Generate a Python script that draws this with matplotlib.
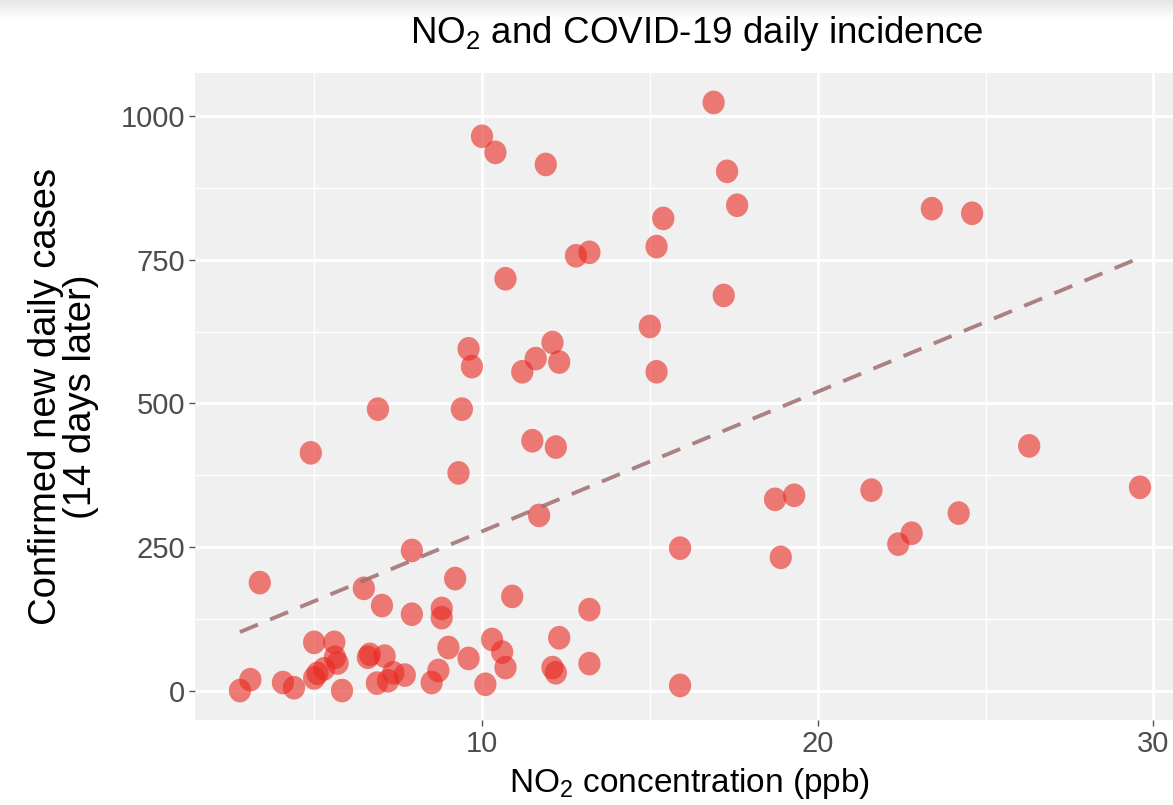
import numpy as np
import matplotlib.pyplot as plt
from matplotlib.path import Path

# =====================================================
# Data
# =====================================================

no2_ppb = [
    2.79, 3.10, 3.38, 4.07, 4.40, 4.90, 5.00, 5.60, 5.62, 5.70,
    5.30, 5.10, 5.00, 5.83, 6.48, 6.60, 6.66, 6.90, 6.87, 7.02,
    7.10, 7.20, 7.36, 7.70, 7.91, 7.91, 8.50, 8.70, 8.80, 8.80,
    9.00, 9.20, 9.30, 9.40, 9.60, 9.60, 9.70, 10.0, 10.1, 10.3,
    10.4, 10.6, 10.7, 10.7, 10.9, 11.2, 11.5, 11.6, 11.7, 11.9,
    12.1, 12.2, 12.3, 12.3, 12.1, 12.2, 12.8, 13.2, 13.2, 13.2,
    15.0, 15.2, 15.2, 15.4, 15.9, 15.9, 16.9, 17.2, 17.3, 17.6,
    18.73, 18.9, 19.3, 21.6, 22.4, 22.8, 23.4, 24.2, 24.6, 26.3,
    29.6,
]

new_cases = [
    0, 19, 188, 14, 5, 414, 84, 84, 58, 48,
    38, 30, 22, 0, 178, 58, 63, 490, 13, 148,
    60, 17, 31, 27, 244, 133, 14, 35, 143, 127,
    75, 195, 379, 490, 595, 56, 564, 965, 11, 89,
    937, 67, 40, 717, 164, 555, 435, 578, 305, 916,
    606, 424, 572, 92, 40, 31, 757, 763, 141, 47,
    634, 773, 555, 822, 248, 9, 1024, 688, 904, 845,
    333, 232, 340, 349, 255, 274, 839, 309, 831, 426,
    354,
]

x_ticks = [10, 20, 30]
y_ticks = [0, 250, 500, 750, 1000]

# =====================================================
# Style
# =====================================================

plt.rcParams.update({
    "font.family": ["Liberation Sans", "DejaVu Sans"],
    "mathtext.fontset": "custom",
    "mathtext.rm": "Liberation Sans",
    "mathtext.it": "Liberation Sans",
    "mathtext.bf": "Liberation Sans",
})

# the screenshot is slightly squeezed sideways, so dots are a bit oval
t = np.linspace(0, 2 * np.pi, 60)
ellipse = Path(np.column_stack([0.94 * np.cos(t), np.sin(t)]), closed=True)

# =====================================================
# Plot
# =====================================================

fig = plt.figure(figsize=(11.73, 8.05), dpi=100)

# light band along the top edge of the screenshot
band = fig.add_axes([0, 0.975, 1, 0.025])
band.imshow(np.linspace(0.9, 1.0, 20).reshape(-1, 1), aspect="auto",
            cmap="gray", vmin=0, vmax=1, extent=[0, 1, 0, 1])
band.axis("off")

ax = fig.add_axes([0.1662, 0.1056, 0.8440, 0.8037])
ax.set_facecolor("#F0F0F0")

x = np.array(no2_ppb)
y = np.array(new_cases)

ax.scatter(x, y, s=290, marker=ellipse, color="#E8281F", alpha=0.6,
           edgecolors="none", zorder=3)

# linear fit
slope, intercept = np.polyfit(x, y, 1)
xf = np.array([x.min(), x.max()])
ax.plot(xf, intercept + slope * xf, color="#A06E6E", alpha=0.85,
        linewidth=2.8, linestyle=(0, (5, 3.4)), zorder=4)

ax.margins(x=0.05, y=0.05)

# =====================================================
# Formatting
# =====================================================

ax.set_xticks(x_ticks)
ax.set_yticks(y_ticks)
ax.set_xticks([5, 15, 25], minor=True)
ax.set_yticks([125, 375, 625, 875], minor=True)
ax.grid(which="major", color="white", linewidth=2.0)
ax.grid(which="minor", color="white", linewidth=1.0)
ax.set_axisbelow(True)

for s in ax.spines.values():
    s.set_visible(False)

ax.tick_params(which="major", length=4, width=1, color="#555555",
               labelcolor="#4D4D4D", labelsize=21, pad=3)
ax.tick_params(which="minor", length=0)

ax.set_xlabel(r"NO$_2$ concentration (ppb)", fontsize=24, labelpad=6)
ax.set_ylabel("Confirmed new daily cases\n(14 days later)", fontsize=27.5,
              linespacing=0.95, labelpad=16)

fig.text(0.594, 0.958, r"NO$_2$ and COVID-19 daily incidence",
         ha="center", va="center", fontsize=26.5)

plt.savefig("out.png", dpi=100)
